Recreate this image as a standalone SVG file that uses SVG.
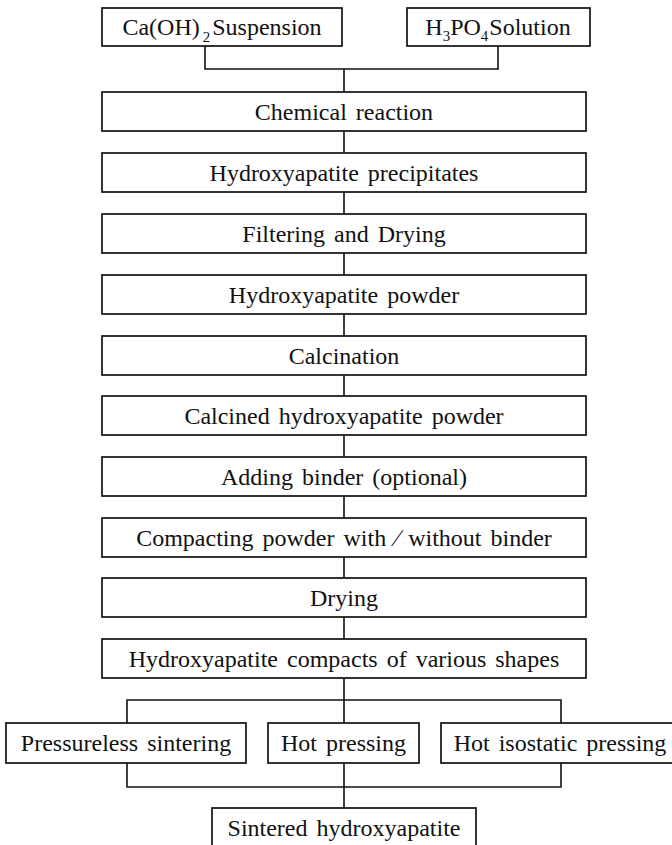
<svg xmlns="http://www.w3.org/2000/svg" width="672" height="845" viewBox="0 0 672 845">
<style>
rect{fill:#fff;stroke:#111;stroke-width:1.7}
text{font-family:"Liberation Serif","Times New Roman",serif;font-size:24px;fill:#111;text-anchor:middle;word-spacing:3px}
.c path{fill:none;stroke:#111;stroke-width:1.6}
.sub{font-size:15px}
</style>
<rect x="0" y="0" width="672" height="845" style="fill:#fff;stroke:none"/>
<g class="c" id="connectors">
<path d="M205 46V69H498V46M344 69V92"/>
<path d="M344 131V153M344 192V214M344 253V275M344 314V336M344 375V396M344 435V457M344 496V518M344 557V578M344 617V639"/>
<path d="M344 678V723M127 723V700H561V723"/>
<path d="M127 763V787H561V763M344 763V808"/>
</g>
<g id="n_caoh"><rect x="102" y="8" width="240" height="38"/><text x="222" y="35">Ca(OH)<tspan class="sub" dx="3" dy="7">2</tspan><tspan dx="2" dy="-7">Suspension</tspan></text></g>
<g id="n_h3po4"><rect x="407" y="8" width="183" height="38"/><text x="498" y="35">H<tspan class="sub" dy="6">3</tspan><tspan dy="-6">PO</tspan><tspan class="sub" dy="6">4</tspan><tspan dx="1" dy="-6">Solution</tspan></text></g>
<g id="n1"><rect x="102" y="92" width="484" height="39"/><text x="344" y="119.5">Chemical reaction</text></g>
<g id="n2"><rect x="102" y="153" width="484" height="39"/><text x="344" y="180.5">Hydroxyapatite precipitates</text></g>
<g id="n3"><rect x="102" y="214" width="484" height="39"/><text x="344" y="241.5">Filtering and Drying</text></g>
<g id="n4"><rect x="102" y="275" width="484" height="39"/><text x="344" y="302.5">Hydroxyapatite powder</text></g>
<g id="n5"><rect x="102" y="336" width="484" height="39"/><text x="344" y="363.5">Calcination</text></g>
<g id="n6"><rect x="102" y="396" width="484" height="39"/><text x="344" y="423.5">Calcined hydroxyapatite powder</text></g>
<g id="n7"><rect x="102" y="457" width="484" height="39"/><text x="344" y="484.5">Adding binder (optional)</text></g>
<g id="n8"><rect x="102" y="518" width="484" height="39"/><text x="344" y="545.5">Compacting powder with ∕ without binder</text></g>
<g id="n9"><rect x="102" y="578" width="484" height="39"/><text x="344" y="605.5">Drying</text></g>
<g id="n10"><rect x="102" y="639" width="484" height="39"/><text x="344" y="666.5">Hydroxyapatite compacts of various shapes</text></g>
<g id="n_pressureless"><rect x="6" y="723" width="240" height="40"/><text x="126" y="751">Pressureless sintering</text></g>
<g id="n_hotpress"><rect x="268" y="723" width="151" height="40"/><text x="343.5" y="751">Hot pressing</text></g>
<g id="n_hip"><rect x="441" y="723" width="240" height="40"/><text x="560" y="751">Hot isostatic pressing</text></g>
<g id="n_sintered"><rect x="212" y="808" width="264" height="38"/><text x="344" y="836">Sintered hydroxyapatite</text></g>
</svg>
